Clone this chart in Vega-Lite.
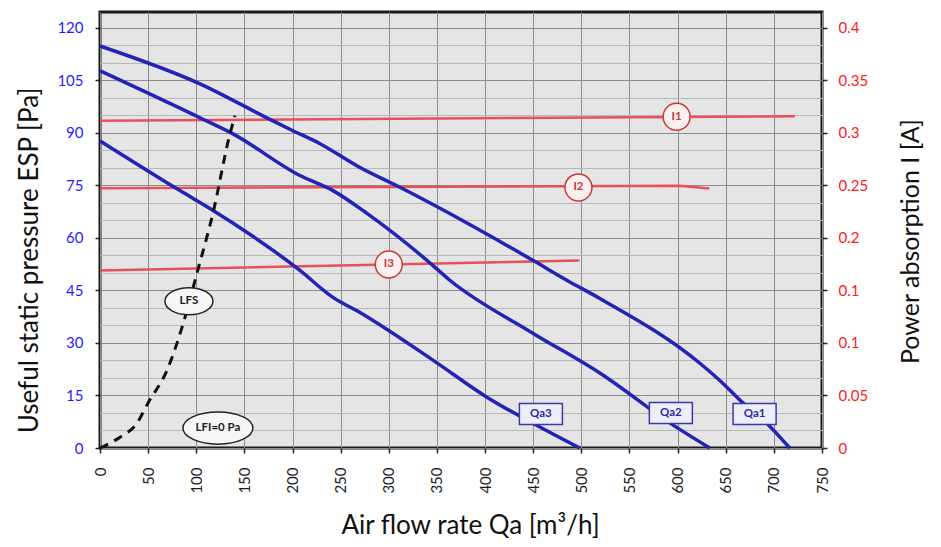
{
  "$schema": "https://vega.github.io/schema/vega-lite/v6.json",
  "width": 722,
  "height": 436,
  "autosize": "none",
  "padding": {"left": 100, "top": 12, "right": 119, "bottom": 99},
  "background": "white",
  "config": {
    "view": {"fill": "#e5e5e5", "stroke": "#1a1a1a", "strokeWidth": 3},
    "font": "Lato"
  },
  "datasets": {
    "qa": [
      {"series": "Qa1", "q": 0, "p": 114.8}, {"series": "Qa1", "q": 103.8, "p": 104.0}, {"series": "Qa1", "q": 179.6, "p": 93.4},
      {"series": "Qa1", "q": 200.4, "p": 90.6}, {"series": "Qa1", "q": 228.5, "p": 86.9}, {"series": "Qa1", "q": 270, "p": 80.1},
      {"series": "Qa1", "q": 308.4, "p": 74.9}, {"series": "Qa1", "q": 449.6, "p": 53.6}, {"series": "Qa1", "q": 484.9, "p": 47.9},
      {"series": "Qa1", "q": 519.2, "p": 42.7}, {"series": "Qa1", "q": 623.1, "p": 24.2}, {"series": "Qa1", "q": 646.9, "p": 18.5},
      {"series": "Qa1", "q": 664.6, "p": 13.7}, {"series": "Qa1", "q": 692.6, "p": 7.1}, {"series": "Qa1", "q": 716.5, "p": 0},
      {"series": "Qa2", "q": 0, "p": 107.7}, {"series": "Qa2", "q": 103.8, "p": 94.3}, {"series": "Qa2", "q": 138.1, "p": 89.7},
      {"series": "Qa2", "q": 207.7, "p": 77.8}, {"series": "Qa2", "q": 242, "p": 73.5}, {"series": "Qa2", "q": 277.3, "p": 67.0},
      {"series": "Qa2", "q": 339.6, "p": 53.6}, {"series": "Qa2", "q": 363.4, "p": 47.9}, {"series": "Qa2", "q": 449.6, "p": 32.8},
      {"series": "Qa2", "q": 519.2, "p": 21.4}, {"series": "Qa2", "q": 595, "p": 6.6}, {"series": "Qa2", "q": 633.4, "p": 0},
      {"series": "Qa3", "q": 0, "p": 87.7}, {"series": "Qa3", "q": 83.1, "p": 73.5}, {"series": "Qa3", "q": 114.2, "p": 68.4},
      {"series": "Qa3", "q": 207.7, "p": 50.7}, {"series": "Qa3", "q": 242, "p": 43.0}, {"series": "Qa3", "q": 270, "p": 38.7},
      {"series": "Qa3", "q": 345.8, "p": 25.1}, {"series": "Qa3", "q": 401.9, "p": 14.5}, {"series": "Qa3", "q": 456.9, "p": 6.0},
      {"series": "Qa3", "q": 498.4, "p": 0}
    ],
    "lfs": [
      {"q": 0, "p": 0}, {"q": 20.8, "p": 3.1}, {"q": 38.4, "p": 7.1}, {"q": 49.8, "p": 12.8}, {"q": 69.6, "p": 22.2},
      {"q": 88.3, "p": 37.3}, {"q": 100.7, "p": 49.9}, {"q": 117.3, "p": 67.0}, {"q": 135, "p": 89.7}, {"q": 140.2, "p": 94.9}
    ],
    "cur": [
      {"series": "I1", "q": 0, "a": 0.3115}, {"series": "I1", "q": 721.7, "a": 0.3158},
      {"series": "I2", "q": 0, "a": 0.2473}, {"series": "I2", "q": 602, "a": 0.2497}, {"series": "I2", "q": 633, "a": 0.247},
      {"series": "I3", "q": 0, "a": 0.169}, {"series": "I3", "q": 498, "a": 0.1785}
    ],
    "ann": [
      {"kind": "lfs", "label": "LFS", "q": 92.4, "p": 41.9},
      {"kind": "lfi", "label": "LFI=0 Pa", "q": 122.5, "p": 5.7},
      {"kind": "i", "label": "I1", "q": 599, "p": 94.6},
      {"kind": "i", "label": "I2", "q": 497, "p": 74.4},
      {"kind": "i", "label": "I3", "q": 300, "p": 52.4},
      {"kind": "qa", "label": "Qa3", "q": 458, "p": 9.7},
      {"kind": "qa", "label": "Qa2", "q": 593, "p": 10},
      {"kind": "qa", "label": "Qa1", "q": 680, "p": 9.7}
    ]
  },
  "layer": [
    {
      "data": {"name": "qa"},
      "mark": {"type": "line", "color": "#2525b5", "strokeWidth": 3.5, "strokeJoin": "round", "opacity": 0},
      "encoding": {
        "x": {
          "field": "q", "type": "quantitative", "scale": {"domain": [0, 750], "nice": false},
          "axis": {
            "title": "Air flow rate Qa [m³/h]",
            "values": [0, 50, 100, 150, 200, 250, 300, 350, 400, 450, 500, 550, 600, 650, 700, 750],
            "labelAngle": -90, "labelFontSize": 15, "labelColor": "#1a1a1a", "labelPadding": 14,
            "labelOverlap": false, "labelFlush": false, "labelBound": false,
            "tickSize": 5, "tickColor": "#222", "tickWidth": 1.5, "domain": false,
            "grid": true, "gridColor": "#8c8c8c", "gridWidth": 1,
            "titleFontSize": 26, "titleFontWeight": "normal", "titleColor": "#111", "titlePadding": 19, "titleX": 370
          }
        },
        "y": {
          "field": "p", "type": "quantitative", "scale": {"domain": [0, 124.5], "nice": false},
          "axis": {
            "orient": "left", "title": "Useful static pressure ESP [Pa]",
            "values": [0, 5, 10, 15, 20, 25, 30, 35, 40, 45, 50, 55, 60, 65, 70, 75, 80, 85, 90, 95, 100, 105, 110, 115, 120],
            "labelExpr": "datum.value % 15 === 0 ? datum.label : ''",
            "labelColor": "#1f1fff", "labelFontSize": 15, "labelPadding": 12, "labelOverlap": false,
            "tickSize": 5, "tickColor": "#222", "tickWidth": 1.5,
            "tickOpacity": {"condition": {"test": "datum.value % 15 === 0", "value": 1}, "value": 0},
            "grid": true,
            "gridColor": {"condition": {"test": "datum.value % 15 === 0", "value": "#8c8c8c"}, "value": "#b8b8b8"},
            "domain": false,
            "titleFontSize": 26, "titleFontWeight": "normal", "titleColor": "#111", "titlePadding": 14, "titleY": 248
          }
        },
        "detail": {"field": "series"}
      }
    },
    {
      "data": {"name": "cur"},
      "mark": {"type": "line", "color": "#e8505a", "strokeWidth": 2.5},
      "encoding": {
        "x": {"field": "q", "type": "quantitative", "scale": {"domain": [0, 750], "nice": false}},
        "y": {
          "field": "a", "type": "quantitative", "scale": {"domain": [0, 0.415], "nice": false},
          "axis": {
            "orient": "right", "title": "Power absorption I [A]",
            "values": [0, 0.05, 0.1, 0.15, 0.2, 0.25, 0.3, 0.35, 0.4],
            "labelExpr": "datum.value === 0.15 ? '0.1' : format(datum.value, '.2~f')",
            "labelColor": "#ff1a1a", "labelFontSize": 15, "labelPadding": 11, "labelOverlap": false,
            "tickSize": 5, "tickColor": "#222", "tickWidth": 1.5,
            "grid": false, "domain": false,
            "titleFontSize": 25, "titleFontWeight": "normal", "titleColor": "#111",
            "titleAngle": 270, "titleBaseline": "top", "titlePadding": 31, "titleY": 229
          }
        },
        "detail": {"field": "series"}
      }
    },
    {
      "data": {"name": "qa"},
      "mark": {"type": "line", "color": "#2323b8", "strokeWidth": 3.5, "strokeJoin": "round", "interpolate": "monotone"},
      "encoding": {
        "x": {"field": "q", "type": "quantitative", "scale": {"domain": [0, 750], "nice": false}},
        "y": {"field": "p", "type": "quantitative", "scale": {"domain": [0, 124.5], "nice": false}, "axis": null},
        "detail": {"field": "series"}
      }
    },
    {
      "data": {"name": "lfs"},
      "mark": {"type": "line", "color": "#111", "strokeWidth": 3, "strokeDash": [9, 7], "interpolate": "monotone"},
      "encoding": {
        "x": {"field": "q", "type": "quantitative", "scale": {"domain": [0, 750], "nice": false}},
        "y": {"field": "p", "type": "quantitative", "scale": {"domain": [0, 124.5], "nice": false}, "axis": null}
      }
    },
    {
      "data": {"name": "ann"},
      "transform": [{"filter": "datum.kind === 'lfs'"}],
      "mark": {"type": "point", "shape": "M -1 0 A 1 0.5625 0 1 0 1 0 A 1 0.5625 0 1 0 -1 0 Z", "size": 2304, "filled": true, "fill": "#f6f6f6", "stroke": "#222", "strokeWidth": 1.5, "opacity": 1},
      "encoding": {
        "x": {"field": "q", "type": "quantitative", "scale": {"domain": [0, 750], "nice": false}},
        "y": {"field": "p", "type": "quantitative", "scale": {"domain": [0, 124.5], "nice": false}, "axis": null}
      }
    },
    {
      "data": {"name": "ann"},
      "transform": [{"filter": "datum.kind === 'lfi'"}],
      "mark": {"type": "point", "shape": "M -1 0 A 1 0.46 0 1 0 1 0 A 1 0.46 0 1 0 -1 0 Z", "size": 4900, "filled": true, "fill": "#f6f6f6", "stroke": "#222", "strokeWidth": 1.5, "opacity": 1},
      "encoding": {
        "x": {"field": "q", "type": "quantitative", "scale": {"domain": [0, 750], "nice": false}},
        "y": {"field": "p", "type": "quantitative", "scale": {"domain": [0, 124.5], "nice": false}, "axis": null}
      }
    },
    {
      "data": {"name": "ann"},
      "transform": [{"filter": "datum.kind === 'i'"}],
      "mark": {"type": "point", "shape": "circle", "size": 729, "filled": true, "fill": "#fbf0f0", "stroke": "#c83a3a", "strokeWidth": 1.5, "opacity": 1},
      "encoding": {
        "x": {"field": "q", "type": "quantitative", "scale": {"domain": [0, 750], "nice": false}},
        "y": {"field": "p", "type": "quantitative", "scale": {"domain": [0, 124.5], "nice": false}, "axis": null}
      }
    },
    {
      "data": {"name": "ann"},
      "transform": [{"filter": "datum.kind === 'qa'"}],
      "mark": {"type": "point", "shape": "M -1 -0.49 L 1 -0.49 L 1 0.49 L -1 0.49 Z", "size": 1849, "filled": true, "fill": "#eeeefa", "stroke": "#3a3aa8", "strokeWidth": 1.5, "opacity": 1},
      "encoding": {
        "x": {"field": "q", "type": "quantitative", "scale": {"domain": [0, 750], "nice": false}},
        "y": {"field": "p", "type": "quantitative", "scale": {"domain": [0, 124.5], "nice": false}, "axis": null}
      }
    },
    {
      "data": {"name": "ann"},
      "mark": {"type": "text", "fontSize": 11.5, "fontWeight": "bold", "font": "Lato"},
      "encoding": {
        "x": {"field": "q", "type": "quantitative", "scale": {"domain": [0, 750], "nice": false}},
        "y": {"field": "p", "type": "quantitative", "scale": {"domain": [0, 124.5], "nice": false}, "axis": null},
        "text": {"field": "label"},
        "color": {"field": "kind", "type": "nominal", "scale": {"domain": ["lfs", "lfi", "i", "qa"], "range": ["#222222", "#222222", "#c83a3a", "#2a2aa0"]}, "legend": null}
      }
    }
  ],
  "resolve": {"scale": {"y": "independent"}}
}
